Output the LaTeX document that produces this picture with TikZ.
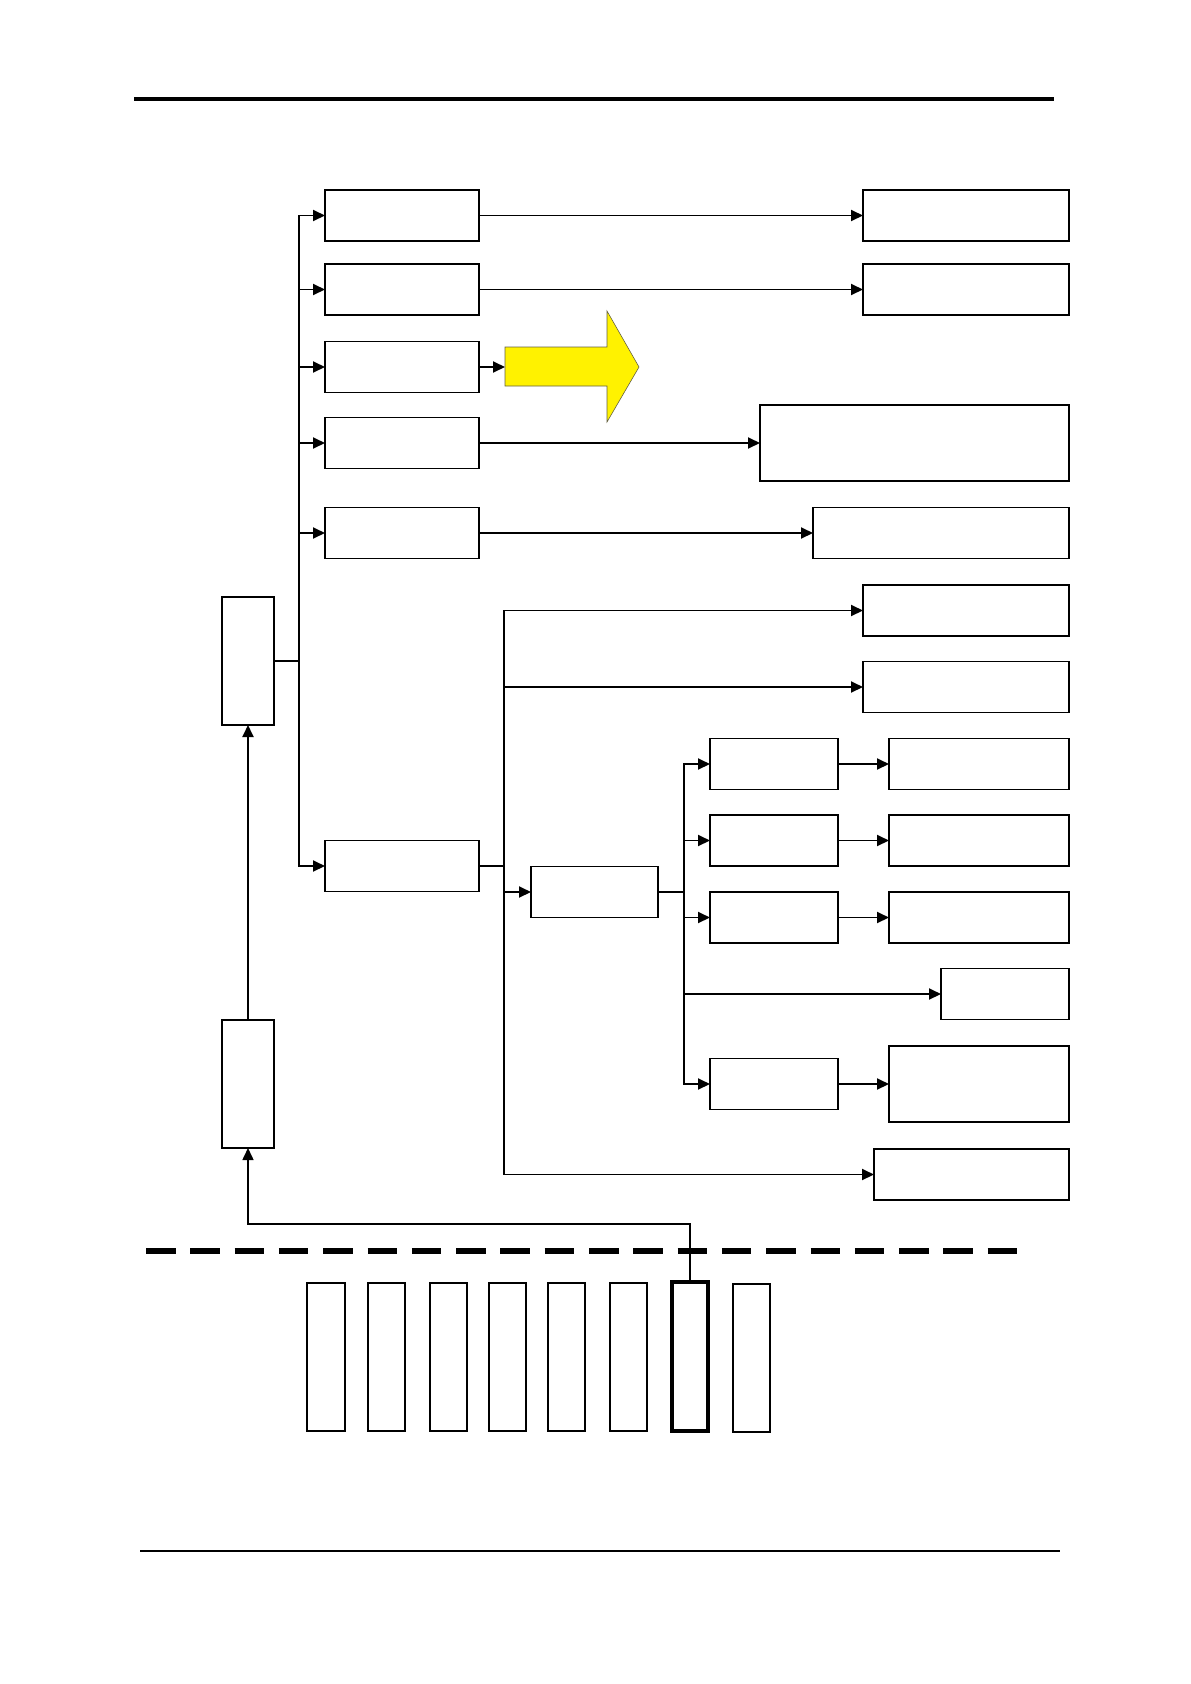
\documentclass[tikz,border=0pt]{standalone}
\usetikzlibrary{arrows.meta}
\begin{document}
\begin{tikzpicture}[x=1pt,y=-1pt,
  box/.style={draw,line width=1.9pt,inner sep=0pt,outer sep=0pt,minimum height=51pt},
  conn/.style={line width=1.9pt},
  arr/.style={conn,-{Triangle[length=12pt,width=11pt]}}]
\useasboundingbox (0,0) rectangle (1191,1684);
% page rules
\draw[line width=3.2pt] (134,99) -- (1054,99);
\draw[line width=1.6pt] (140,1551) -- (1060,1551);
% left column
\node[box,minimum width=154pt] (r1) at (402,215.5) {};
\node[box,minimum width=154pt] (r2) at (402,289.5) {};
\node[box,minimum width=154pt] (r3) at (402,367) {};
\node[box,minimum width=154pt] (r4) at (402,443) {};
\node[box,minimum width=154pt] (r5) at (402,533) {};
\node[box,minimum width=154pt] (r6) at (402,866) {};
% right boxes
\node[box,minimum width=206pt] (R1) at (966,215.5) {};
\node[box,minimum width=206pt] (R2) at (966,289.5) {};
\node[box,minimum width=309pt,minimum height=76pt] (R4) at (914.5,443) {};
\node[box,minimum width=256pt] (R5) at (941,533) {};
\node[box,minimum width=206pt] (R6) at (966,610.5) {};
\node[box,minimum width=206pt] (R7) at (966,687) {};
\node[box,minimum width=195pt] (R8) at (971.5,1174.5) {};
% middle
\node[box,minimum width=127pt] (M) at (594.5,892) {};
\node[box,minimum width=128pt] (C1) at (774,764) {};
\node[box,minimum width=128pt] (C2) at (774,840.5) {};
\node[box,minimum width=128pt] (C3) at (774,917.5) {};
\node[box,minimum width=128pt] (C5) at (774,1084) {};
\node[box,minimum width=180pt] (D1) at (979,764) {};
\node[box,minimum width=180pt] (D2) at (979,840.5) {};
\node[box,minimum width=180pt] (D3) at (979,917.5) {};
\node[box,minimum width=180pt,minimum height=76pt] (D5) at (979,1084) {};
\node[box,minimum width=128pt] (E) at (1005,994) {};
% left vertical boxes
\node[box,minimum width=52pt,minimum height=128pt] (L1) at (248,661) {};
\node[box,minimum width=52pt,minimum height=128pt] (L2) at (248,1084) {};
% bottom boxes
\node[box,line width=1.5pt,minimum width=38pt,minimum height=148pt] (b1) at (326,1357) {};
\node[box,line width=1.5pt,minimum width=37pt,minimum height=148pt] (b2) at (386.5,1357) {};
\node[box,line width=1.5pt,minimum width=37pt,minimum height=148pt] (b3) at (448.5,1357) {};
\node[box,line width=1.5pt,minimum width=37pt,minimum height=148pt] (b4) at (507.5,1357) {};
\node[box,line width=1.5pt,minimum width=37pt,minimum height=148pt] (b5) at (566.5,1357) {};
\node[box,line width=1.5pt,minimum width=37pt,minimum height=148pt] (b6) at (628.5,1357) {};
\node[box,line width=4.2pt,minimum width=36pt,minimum height=149pt] (b7) at (690,1356.5) {};
\node[box,line width=1.5pt,minimum width=37pt,minimum height=148pt] (b8) at (751.5,1358) {};
% yellow arrow
\coordinate (ya) at (505,367);
\draw[fill=yellow,draw=black!70!yellow,line width=0.6pt]
  (505,347) -- (607,347) -- (607,311) -- (639,367) -- (607,422) -- (607,386) -- (505,386) -- cycle;
% first trunk
\coordinate (t1) at (299,661);
\draw[conn] (L1.east) -- (t1);
\foreach \n in {r1,r2,r3,r4,r5,r6} \draw[arr] (t1) |- (\n.west);
\draw[arr] (r1.east) -- (R1.west);
\draw[arr] (r2.east) -- (R2.west);
\draw[arr] (r3.east) -- (ya);
\draw[arr] (r4.east) -- (R4.west);
\draw[arr] (r5.east) -- (R5.west);
% second trunk
\coordinate (t2) at (504,866);
\draw[conn] (r6.east) -- (t2);
\foreach \n in {R6,R7,M,R8} \draw[arr] (t2) |- (\n.west);
% third trunk
\coordinate (t3) at (684,892);
\draw[conn] (M.east) -- (t3);
\foreach \n in {C1,C2,C3,E,C5} \draw[arr] (t3) |- (\n.west);
\draw[arr] (C1.east) -- (D1.west);
\draw[arr] (C2.east) -- (D2.west);
\draw[arr] (C3.east) -- (D3.west);
\draw[arr] (C5.east) -- (D5.west);
% L2 to L1
\draw[arr] (L2.north) -- (L1.south);
% dashed separator
\draw[line width=6.5pt,dash pattern=on 29.5pt off 14.8pt] (146,1251) -- (1018,1251);
% bottom feed
\coordinate (bend) at (690,1224);
\draw[arr,line width=1.6pt] (b7.north) -- (bend) -| (L2.south);
\end{tikzpicture}
\end{document}
